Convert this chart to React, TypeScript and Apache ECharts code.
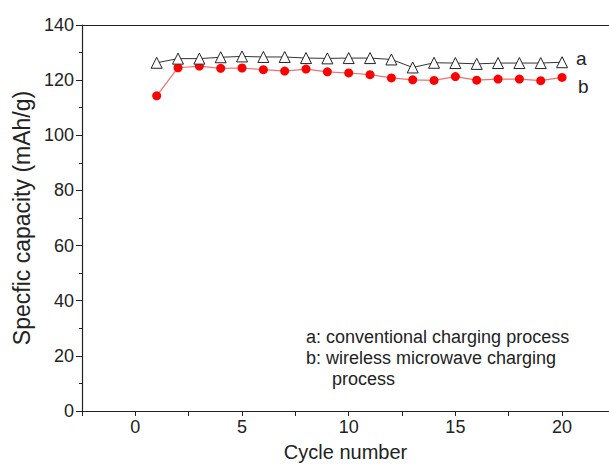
import React, { useEffect, useRef } from "react";
import * as echarts from "echarts";

const cycles = [1, 2, 3, 4, 5, 6, 7, 8, 9, 10, 11, 12, 13, 14, 15, 16, 17, 18, 19, 20];
const seriesA = [126.3, 127.8, 127.8, 128.3, 128.6, 128.4, 128.4, 128, 127.9, 128, 128, 127.5, 124.6, 126.3, 126.2, 125.9, 126.2, 126.2, 126.2, 126.5];
const seriesB = [114.3, 124.5, 125.1, 124.3, 124.4, 123.8, 123.3, 124, 123, 122.6, 122, 120.8, 120.1, 119.9, 121.3, 120, 120.4, 120.4, 119.8, 121];
const annotations = ["a: conventional charging process", "b: wireless microwave charging", "process"];
const seriesLabels = ["a", "b"];

const FONT = "'Liberation Sans', Arial, Helvetica, sans-serif";
const X_MIN = -2.5;
const X_MAX = 22.2;

export default function App() {
  const ref = useRef<HTMLDivElement>(null);
  useEffect(() => {
    if (!ref.current) return;
    const chart = echarts.init(ref.current, null, { renderer: "svg" });
    chart.setOption({
      animation: false,
      backgroundColor: "#ffffff",
      textStyle: { fontFamily: FONT },
      grid: {
        left: 82,
        top: 25,
        bottom: 58,
        right: 0,
        show: false,
      },
      xAxis: [
        {
          type: "value",
          min: X_MIN,
          max: X_MAX,
          interval: 2.5,
          name: "Cycle number",
          nameLocation: "middle",
          nameGap: 31,
          nameTextStyle: { fontSize: 20, color: "#222", fontFamily: FONT },
          axisLine: { onZero: false, lineStyle: { color: "#222", width: 1.2 } },
          axisTick: { show: true, inside: false, length: 5, lineStyle: { color: "#222" } },
          axisLabel: {
            fontSize: 18,
            color: "#222",
            fontFamily: FONT,
            margin: 7,
            showMaxLabel: false,
            formatter: (v: number) => (Math.abs(v % 5) < 1e-6 ? String(v) : ""),
          },
          splitLine: { show: false },
        },
        {
          type: "value",
          position: "top",
          min: X_MIN,
          max: X_MAX,
          axisLine: { onZero: false, lineStyle: { color: "#222", width: 1.2 } },
          axisTick: { show: false },
          axisLabel: { show: false },
          splitLine: { show: false },
        },
      ],
      yAxis: {
        type: "value",
        min: 0,
        max: 140,
        interval: 20,
        name: "Specfic capacity (mAh/g)",
        nameLocation: "middle",
        nameGap: 48,
        nameTextStyle: { fontSize: 23, color: "#222", fontFamily: FONT },
        axisLine: { onZero: false, lineStyle: { color: "#222", width: 1.2 } },
        axisTick: { show: true, length: 6, lineStyle: { color: "#222" } },
        minorTick: { show: true, splitNumber: 2, length: 3, lineStyle: { color: "#222" } },
        axisLabel: { fontSize: 18, color: "#222", fontFamily: FONT, margin: 8 },
        splitLine: { show: false },
      },
      series: [
        {
          name: seriesLabels[0],
          type: "line",
          xAxisIndex: 0,
          data: cycles.map((c, i) => [c, seriesA[i]]),
          symbol: "triangle",
          symbolSize: 11,
          lineStyle: { color: "#333", width: 1 },
          itemStyle: { color: "#ffffff", borderColor: "#222", borderWidth: 1 },
          z: 3,
        },
        {
          name: seriesLabels[1],
          type: "line",
          xAxisIndex: 0,
          data: cycles.map((c, i) => [c, seriesB[i]]),
          symbol: "circle",
          symbolSize: 9,
          lineStyle: { color: "#f07070", width: 1.2 },
          itemStyle: { color: "#ff0000", borderWidth: 0 },
          z: 2,
        },
      ],
      graphic: [
        { type: "text", left: 576, top: 49, style: { text: seriesLabels[0], fontSize: 19, fill: "#222", fontFamily: FONT } },
        { type: "text", left: 578, top: 77, style: { text: seriesLabels[1], fontSize: 19, fill: "#222", fontFamily: FONT } },
        { type: "text", left: 306, top: 328, style: { text: annotations[0], fontSize: 18, fill: "#222", fontFamily: FONT } },
        { type: "text", left: 306, top: 349, style: { text: annotations[1], fontSize: 18, fill: "#222", fontFamily: FONT } },
        { type: "text", left: 332, top: 370, style: { text: annotations[2], fontSize: 18, fill: "#222", fontFamily: FONT } },
      ],
    });
    return () => chart.dispose();
  }, []);
  return <div ref={ref} style={{ width: 609, height: 469, position: "fixed", left: 0, top: 0 }} />;
}
